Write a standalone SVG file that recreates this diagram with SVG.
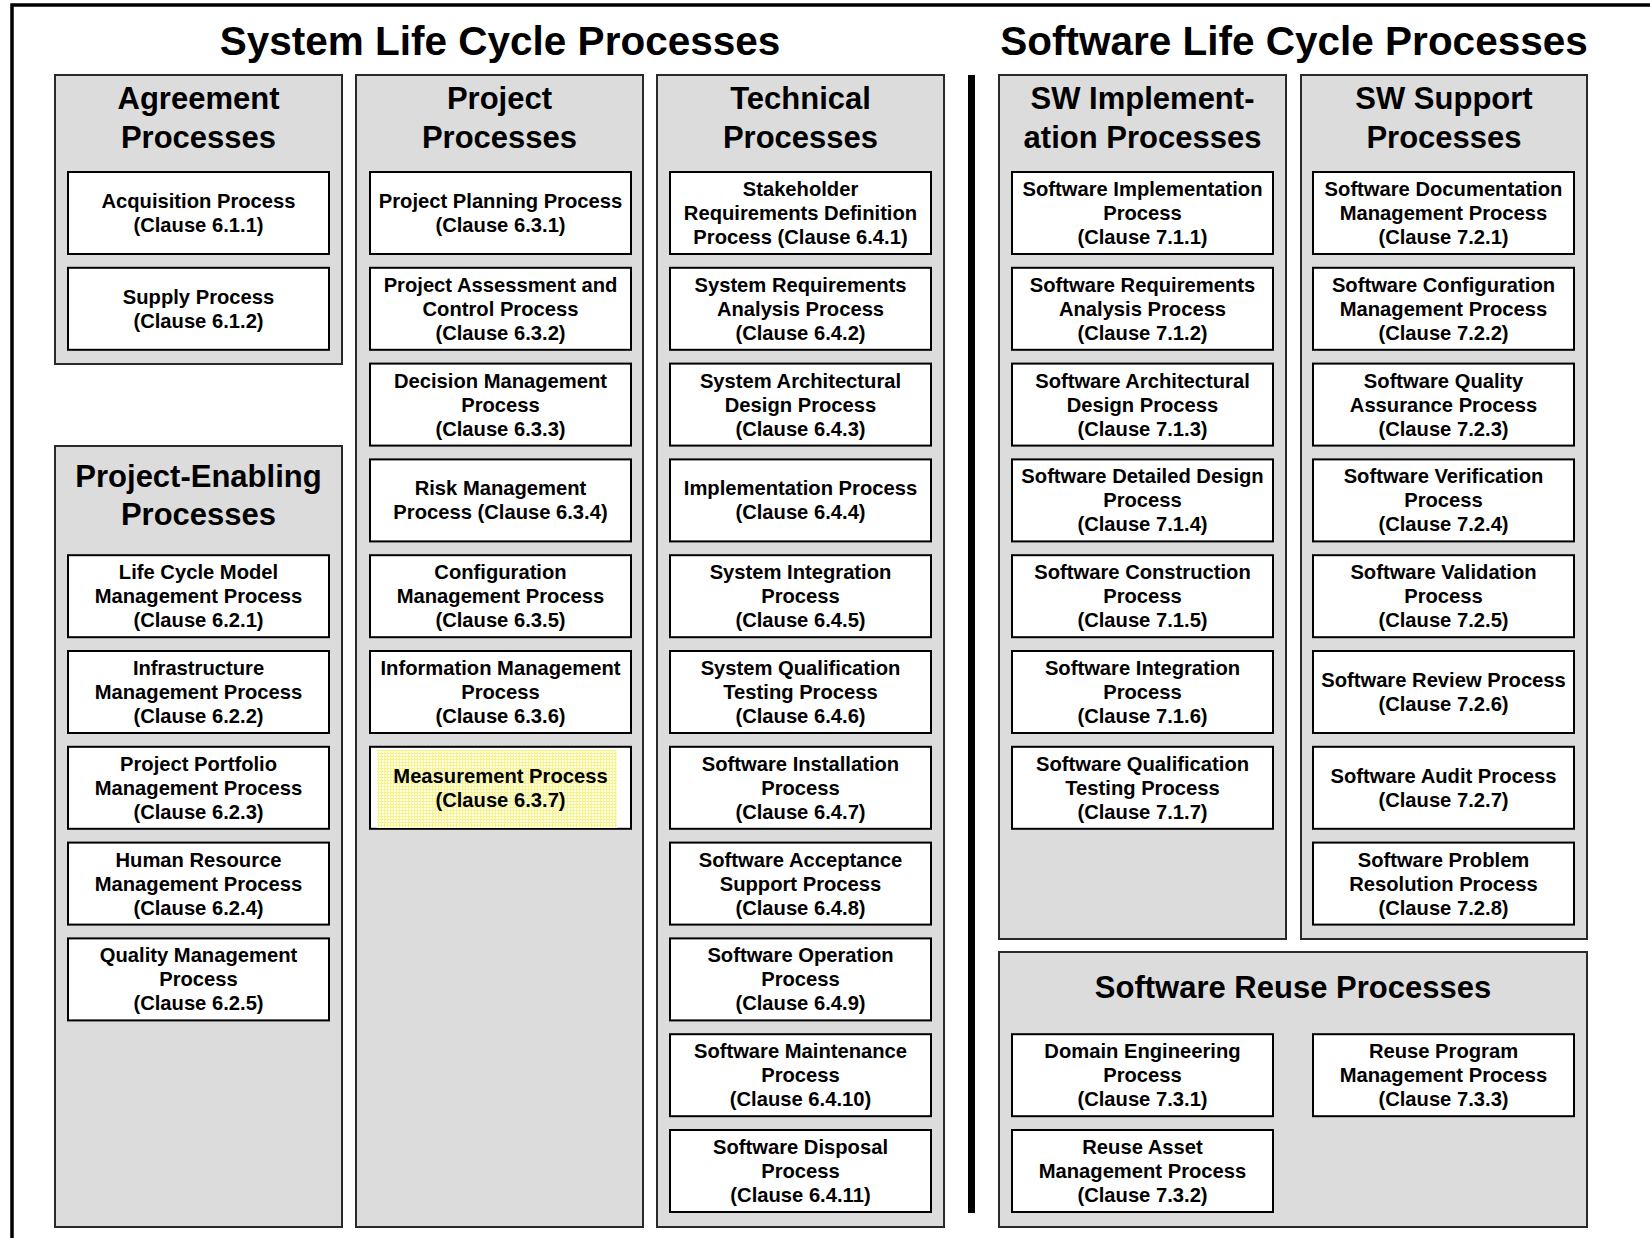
<svg xmlns="http://www.w3.org/2000/svg" width="1650" height="1238" viewBox="0 0 1650 1238">
  <defs>
    <style>
      .frame { stroke: #000; stroke-width: 3.5; fill: none; }
      .panel { fill: #dcdcdc; stroke: #2a2a2a; stroke-width: 2; }
      .box { fill: #fff; stroke: #000; stroke-width: 2; }
      .title { font-family: "Liberation Sans", Arial, Helvetica, sans-serif; font-weight: bold; font-size: 40.5px; fill: #000; text-anchor: middle; }
      .head { font-family: "Liberation Sans", Arial, Helvetica, sans-serif; font-weight: bold; font-size: 31px; fill: #000; text-anchor: middle; }
      .lbl { font-family: "Liberation Sans", Arial, Helvetica, sans-serif; font-weight: bold; font-size: 20.2px; fill: #000; text-anchor: middle; }
    </style>
    <!-- fine pale-yellow dither used for the highlighted process -->
    <pattern id="dither" width="3" height="3" patternUnits="userSpaceOnUse">
      <rect width="3" height="3" fill="#ffffe6"/>
      <rect width="3" height="1" fill="#f7f290"/>
      <rect width="1" height="3" fill="#f7f290"/>
    </pattern>
  </defs>

  <rect width="1650" height="1238" fill="#fff"/>

  <!-- outer frame (top and left edges) -->
  <path class="frame" d="M12 1238 V5 H1650"/>

  <!-- section titles -->
  <text class="title" x="500" y="55">System Life Cycle Processes</text>
  <text class="title" x="1294" y="55">Software Life Cycle Processes</text>

  <!-- separator between system and software groups -->
  <rect x="968" y="75" width="7" height="1138" fill="#000"/>

  <!-- process groups -->
  <g id="agreement">
    <rect class="panel" x="55" y="75" width="287" height="289"/>
    <text class="head" x="198.5" y="109">Agreement</text>
    <text class="head" x="198.5" y="148">Processes</text>
  </g>
  <g id="project-enabling">
    <rect class="panel" x="55" y="446" width="287" height="781"/>
    <text class="head" x="198.5" y="487">Project-Enabling</text>
    <text class="head" x="198.5" y="525">Processes</text>
  </g>
  <g id="project">
    <rect class="panel" x="356" y="75" width="287" height="1152"/>
    <text class="head" x="499.5" y="109">Project</text>
    <text class="head" x="499.5" y="148">Processes</text>
  </g>
  <g id="technical">
    <rect class="panel" x="657" y="75" width="287" height="1152"/>
    <text class="head" x="800.5" y="109">Technical</text>
    <text class="head" x="800.5" y="148">Processes</text>
  </g>
  <g id="sw-implementation">
    <rect class="panel" x="999" y="75" width="287" height="864"/>
    <text class="head" x="1142.5" y="109">SW Implement-</text>
    <text class="head" x="1142.5" y="148">ation Processes</text>
  </g>
  <g id="sw-support">
    <rect class="panel" x="1301" y="75" width="286" height="864"/>
    <text class="head" x="1444" y="109">SW Support</text>
    <text class="head" x="1444" y="148">Processes</text>
  </g>
  <g id="sw-reuse">
    <rect class="panel" x="999" y="952" width="588" height="275"/>
    <text class="head" x="1293" y="998">Software Reuse Processes</text>
  </g>

  <!-- Agreement processes -->
  <g id="p611"><rect class="box" x="68" y="172" width="261" height="82"/>
    <text class="lbl" x="198.5" y="208">Acquisition Process<tspan x="198.5" dy="24">(Clause 6.1.1)</tspan></text></g>
  <g id="p612"><rect class="box" x="68" y="267.8" width="261" height="82"/>
    <text class="lbl" x="198.5" y="303.8">Supply Process<tspan x="198.5" dy="24">(Clause 6.1.2)</tspan></text></g>

  <!-- Project-Enabling processes -->
  <g id="p621"><rect class="box" x="68" y="555.2" width="261" height="82"/>
    <text class="lbl" x="198.5" y="579.2">Life Cycle Model<tspan x="198.5" dy="24">Management Process</tspan><tspan x="198.5" dy="24">(Clause 6.2.1)</tspan></text></g>
  <g id="p622"><rect class="box" x="68" y="651" width="261" height="82"/>
    <text class="lbl" x="198.5" y="675">Infrastructure<tspan x="198.5" dy="24">Management Process</tspan><tspan x="198.5" dy="24">(Clause 6.2.2)</tspan></text></g>
  <g id="p623"><rect class="box" x="68" y="746.8" width="261" height="82"/>
    <text class="lbl" x="198.5" y="770.8">Project Portfolio<tspan x="198.5" dy="24">Management Process</tspan><tspan x="198.5" dy="24">(Clause 6.2.3)</tspan></text></g>
  <g id="p624"><rect class="box" x="68" y="842.6" width="261" height="82"/>
    <text class="lbl" x="198.5" y="866.6">Human Resource<tspan x="198.5" dy="24">Management Process</tspan><tspan x="198.5" dy="24">(Clause 6.2.4)</tspan></text></g>
  <g id="p625"><rect class="box" x="68" y="938.4" width="261" height="82"/>
    <text class="lbl" x="198.5" y="962.4">Quality Management<tspan x="198.5" dy="24">Process</tspan><tspan x="198.5" dy="24">(Clause 6.2.5)</tspan></text></g>

  <!-- Project processes -->
  <g id="p631"><rect class="box" x="370" y="172" width="261" height="82"/>
    <text class="lbl" x="500.5" y="208">Project Planning Process<tspan x="500.5" dy="24">(Clause 6.3.1)</tspan></text></g>
  <g id="p632"><rect class="box" x="370" y="267.8" width="261" height="82"/>
    <text class="lbl" x="500.5" y="291.8">Project Assessment and<tspan x="500.5" dy="24">Control Process</tspan><tspan x="500.5" dy="24">(Clause 6.3.2)</tspan></text></g>
  <g id="p633"><rect class="box" x="370" y="363.6" width="261" height="82"/>
    <text class="lbl" x="500.5" y="387.6">Decision Management<tspan x="500.5" dy="24">Process</tspan><tspan x="500.5" dy="24">(Clause 6.3.3)</tspan></text></g>
  <g id="p634"><rect class="box" x="370" y="459.4" width="261" height="82"/>
    <text class="lbl" x="500.5" y="495.4">Risk Management<tspan x="500.5" dy="24">Process (Clause 6.3.4)</tspan></text></g>
  <g id="p635"><rect class="box" x="370" y="555.2" width="261" height="82"/>
    <text class="lbl" x="500.5" y="579.2">Configuration<tspan x="500.5" dy="24">Management Process</tspan><tspan x="500.5" dy="24">(Clause 6.3.5)</tspan></text></g>
  <g id="p636"><rect class="box" x="370" y="651" width="261" height="82"/>
    <text class="lbl" x="500.5" y="675">Information Management<tspan x="500.5" dy="24">Process</tspan><tspan x="500.5" dy="24">(Clause 6.3.6)</tspan></text></g>
  <g id="p637"><rect class="box" x="370" y="746.8" width="261" height="82"/>
    <rect x="377" y="750" width="240" height="78" fill="url(#dither)"/>
    <text class="lbl" x="500.5" y="782.8">Measurement Process<tspan x="500.5" dy="24">(Clause 6.3.7)</tspan></text></g>

  <!-- Technical processes -->
  <g id="p641"><rect class="box" x="670" y="172" width="261" height="82"/>
    <text class="lbl" x="800.5" y="196">Stakeholder<tspan x="800.5" dy="24">Requirements Definition</tspan><tspan x="800.5" dy="24">Process (Clause 6.4.1)</tspan></text></g>
  <g id="p642"><rect class="box" x="670" y="267.8" width="261" height="82"/>
    <text class="lbl" x="800.5" y="291.8">System Requirements<tspan x="800.5" dy="24">Analysis Process</tspan><tspan x="800.5" dy="24">(Clause 6.4.2)</tspan></text></g>
  <g id="p643"><rect class="box" x="670" y="363.6" width="261" height="82"/>
    <text class="lbl" x="800.5" y="387.6">System Architectural<tspan x="800.5" dy="24">Design Process</tspan><tspan x="800.5" dy="24">(Clause 6.4.3)</tspan></text></g>
  <g id="p644"><rect class="box" x="670" y="459.4" width="261" height="82"/>
    <text class="lbl" x="800.5" y="495.4">Implementation Process<tspan x="800.5" dy="24">(Clause 6.4.4)</tspan></text></g>
  <g id="p645"><rect class="box" x="670" y="555.2" width="261" height="82"/>
    <text class="lbl" x="800.5" y="579.2">System Integration<tspan x="800.5" dy="24">Process</tspan><tspan x="800.5" dy="24">(Clause 6.4.5)</tspan></text></g>
  <g id="p646"><rect class="box" x="670" y="651" width="261" height="82"/>
    <text class="lbl" x="800.5" y="675">System Qualification<tspan x="800.5" dy="24">Testing Process</tspan><tspan x="800.5" dy="24">(Clause 6.4.6)</tspan></text></g>
  <g id="p647"><rect class="box" x="670" y="746.8" width="261" height="82"/>
    <text class="lbl" x="800.5" y="770.8">Software Installation<tspan x="800.5" dy="24">Process</tspan><tspan x="800.5" dy="24">(Clause 6.4.7)</tspan></text></g>
  <g id="p648"><rect class="box" x="670" y="842.6" width="261" height="82"/>
    <text class="lbl" x="800.5" y="866.6">Software Acceptance<tspan x="800.5" dy="24">Support Process</tspan><tspan x="800.5" dy="24">(Clause 6.4.8)</tspan></text></g>
  <g id="p649"><rect class="box" x="670" y="938.4" width="261" height="82"/>
    <text class="lbl" x="800.5" y="962.4">Software Operation<tspan x="800.5" dy="24">Process</tspan><tspan x="800.5" dy="24">(Clause 6.4.9)</tspan></text></g>
  <g id="p6410"><rect class="box" x="670" y="1034.2" width="261" height="82"/>
    <text class="lbl" x="800.5" y="1058.2">Software Maintenance<tspan x="800.5" dy="24">Process</tspan><tspan x="800.5" dy="24">(Clause 6.4.10)</tspan></text></g>
  <g id="p6411"><rect class="box" x="670" y="1130" width="261" height="82"/>
    <text class="lbl" x="800.5" y="1154">Software Disposal<tspan x="800.5" dy="24">Process</tspan><tspan x="800.5" dy="24">(Clause 6.4.11)</tspan></text></g>

  <!-- SW Implementation processes -->
  <g id="p711"><rect class="box" x="1012" y="172" width="261" height="82"/>
    <text class="lbl" x="1142.5" y="196">Software Implementation<tspan x="1142.5" dy="24">Process</tspan><tspan x="1142.5" dy="24">(Clause 7.1.1)</tspan></text></g>
  <g id="p712"><rect class="box" x="1012" y="267.8" width="261" height="82"/>
    <text class="lbl" x="1142.5" y="291.8">Software Requirements<tspan x="1142.5" dy="24">Analysis Process</tspan><tspan x="1142.5" dy="24">(Clause 7.1.2)</tspan></text></g>
  <g id="p713"><rect class="box" x="1012" y="363.6" width="261" height="82"/>
    <text class="lbl" x="1142.5" y="387.6">Software Architectural<tspan x="1142.5" dy="24">Design Process</tspan><tspan x="1142.5" dy="24">(Clause 7.1.3)</tspan></text></g>
  <g id="p714"><rect class="box" x="1012" y="459.4" width="261" height="82"/>
    <text class="lbl" x="1142.5" y="483.4">Software Detailed Design<tspan x="1142.5" dy="24">Process</tspan><tspan x="1142.5" dy="24">(Clause 7.1.4)</tspan></text></g>
  <g id="p715"><rect class="box" x="1012" y="555.2" width="261" height="82"/>
    <text class="lbl" x="1142.5" y="579.2">Software Construction<tspan x="1142.5" dy="24">Process</tspan><tspan x="1142.5" dy="24">(Clause 7.1.5)</tspan></text></g>
  <g id="p716"><rect class="box" x="1012" y="651" width="261" height="82"/>
    <text class="lbl" x="1142.5" y="675">Software Integration<tspan x="1142.5" dy="24">Process</tspan><tspan x="1142.5" dy="24">(Clause 7.1.6)</tspan></text></g>
  <g id="p717"><rect class="box" x="1012" y="746.8" width="261" height="82"/>
    <text class="lbl" x="1142.5" y="770.8">Software Qualification<tspan x="1142.5" dy="24">Testing Process</tspan><tspan x="1142.5" dy="24">(Clause 7.1.7)</tspan></text></g>

  <!-- SW Support processes -->
  <g id="p721"><rect class="box" x="1313" y="172" width="261" height="82"/>
    <text class="lbl" x="1443.5" y="196">Software Documentation<tspan x="1443.5" dy="24">Management Process</tspan><tspan x="1443.5" dy="24">(Clause 7.2.1)</tspan></text></g>
  <g id="p722"><rect class="box" x="1313" y="267.8" width="261" height="82"/>
    <text class="lbl" x="1443.5" y="291.8">Software Configuration<tspan x="1443.5" dy="24">Management Process</tspan><tspan x="1443.5" dy="24">(Clause 7.2.2)</tspan></text></g>
  <g id="p723"><rect class="box" x="1313" y="363.6" width="261" height="82"/>
    <text class="lbl" x="1443.5" y="387.6">Software Quality<tspan x="1443.5" dy="24">Assurance Process</tspan><tspan x="1443.5" dy="24">(Clause 7.2.3)</tspan></text></g>
  <g id="p724"><rect class="box" x="1313" y="459.4" width="261" height="82"/>
    <text class="lbl" x="1443.5" y="483.4">Software Verification<tspan x="1443.5" dy="24">Process</tspan><tspan x="1443.5" dy="24">(Clause 7.2.4)</tspan></text></g>
  <g id="p725"><rect class="box" x="1313" y="555.2" width="261" height="82"/>
    <text class="lbl" x="1443.5" y="579.2">Software Validation<tspan x="1443.5" dy="24">Process</tspan><tspan x="1443.5" dy="24">(Clause 7.2.5)</tspan></text></g>
  <g id="p726"><rect class="box" x="1313" y="651" width="261" height="82"/>
    <text class="lbl" x="1443.5" y="687">Software Review Process<tspan x="1443.5" dy="24">(Clause 7.2.6)</tspan></text></g>
  <g id="p727"><rect class="box" x="1313" y="746.8" width="261" height="82"/>
    <text class="lbl" x="1443.5" y="782.8">Software Audit Process<tspan x="1443.5" dy="24">(Clause 7.2.7)</tspan></text></g>
  <g id="p728"><rect class="box" x="1313" y="842.6" width="261" height="82"/>
    <text class="lbl" x="1443.5" y="866.6">Software Problem<tspan x="1443.5" dy="24">Resolution Process</tspan><tspan x="1443.5" dy="24">(Clause 7.2.8)</tspan></text></g>

  <!-- SW Reuse processes -->
  <g id="p731"><rect class="box" x="1012" y="1034.2" width="261" height="82"/>
    <text class="lbl" x="1142.5" y="1058.2">Domain Engineering<tspan x="1142.5" dy="24">Process</tspan><tspan x="1142.5" dy="24">(Clause 7.3.1)</tspan></text></g>
  <g id="p732"><rect class="box" x="1012" y="1130" width="261" height="82"/>
    <text class="lbl" x="1142.5" y="1154">Reuse Asset<tspan x="1142.5" dy="24">Management Process</tspan><tspan x="1142.5" dy="24">(Clause 7.3.2)</tspan></text></g>
  <g id="p733"><rect class="box" x="1313" y="1034.2" width="261" height="82"/>
    <text class="lbl" x="1443.5" y="1058.2">Reuse Program<tspan x="1443.5" dy="24">Management Process</tspan><tspan x="1443.5" dy="24">(Clause 7.3.3)</tspan></text></g>
</svg>
